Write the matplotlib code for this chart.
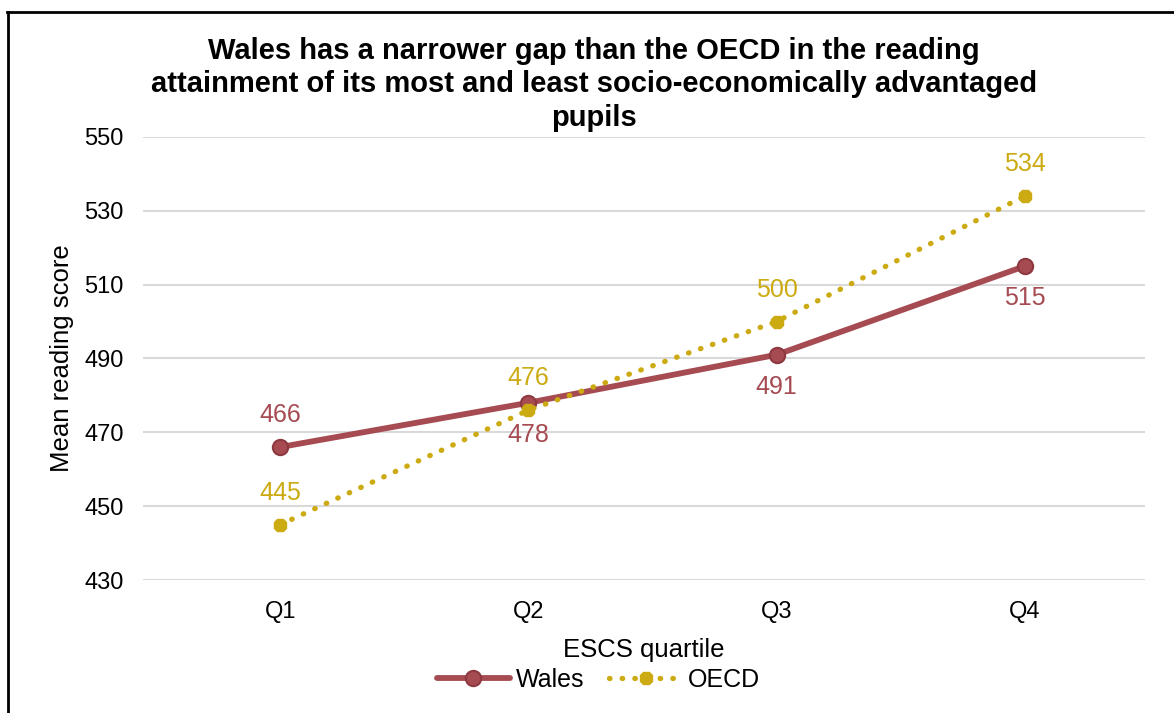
import matplotlib.pyplot as plt
from matplotlib.lines import Line2D

plt.rcParams['font.family'] = ['Liberation Sans', 'DejaVu Sans']

quartiles = ['Q1', 'Q2', 'Q3', 'Q4']
wales = [466, 478, 491, 515]
oecd = [445, 476, 500, 534]

# which side the data label sits on (1 = above, -1 = below)
wales_side = [1, -1, -1, -1]
oecd_side = [1, 1, 1, 1]

wales_col = '#A64B52'
oecd_col = '#CCAA12'
dots = (0, (0.1, 2.3))

fig = plt.figure(figsize=(11.74, 7.13), dpi=100)
ax = fig.add_axes([0.122, 0.1865, 0.853, 0.6215])

x = range(len(quartiles))
ax.plot(x, wales, color=wales_col, lw=4.2, marker='o', ms=11,
        markerfacecolor=wales_col, markeredgecolor='#8E3840', markeredgewidth=1.5,
        solid_capstyle='round', zorder=3)
ax.plot(x, oecd, color=oecd_col, lw=3.8, linestyle=dots,
        dash_capstyle='round', marker='8', ms=10, markerfacecolor=oecd_col,
        markeredgecolor=oecd_col, zorder=3)

for i in x:
    ax.annotate(str(wales[i]), (i, wales[i]), xytext=(0, 23 * wales_side[i]),
                textcoords='offset points', ha='center', va='center',
                fontsize=18, color=wales_col)
    ax.annotate(str(oecd[i]), (i, oecd[i]), xytext=(0, 23 * oecd_side[i]),
                textcoords='offset points', ha='center', va='center',
                fontsize=18, color=oecd_col)

ax.set_ylim(430, 550)
ax.set_yticks(range(430, 551, 20))
ax.set_xlim(-0.552, 3.483)
ax.set_xticks(list(x))
ax.set_xticklabels(quartiles)
ax.tick_params(length=0, labelsize=17)
ax.tick_params(axis='x', pad=15)
ax.tick_params(axis='y', pad=14)
ax.grid(axis='y', color='#D9D9D9', lw=1.5)
ax.set_axisbelow(True)
for s in ax.spines.values():
    s.set_visible(False)

ax.set_xlabel('ESCS quartile', fontsize=18.5, labelpad=11)
ax.set_ylabel('Mean reading score', fontsize=18.5)
ax.yaxis.set_label_coords(-0.069, 0.5)

fig.text(0.506, 0.882,
         'Wales has a narrower gap than the OECD in the reading\n'
         'attainment of its most and least socio-economically advantaged\n'
         'pupils', ha='center', va='center', fontsize=21, fontweight='bold',
         linespacing=1.25)

handles = [
    Line2D([], [], color=wales_col, lw=4.2, marker='o', ms=11,
           markerfacecolor=wales_col, markeredgecolor='#8E3840', markeredgewidth=1.5,
           solid_capstyle='round'),
    Line2D([], [], color=oecd_col, lw=3.8, linestyle=dots,
           dash_capstyle='round', marker='8', ms=10, markerfacecolor=oecd_col,
           markeredgecolor=oecd_col),
]
fig.legend(handles, ['Wales', 'OECD'], loc='center', bbox_to_anchor=(0.51, 0.046),
           ncol=2, frameon=False, fontsize=18, handlelength=2.9, columnspacing=1.0,
           handletextpad=0.25)

# frame lines on top and left, as in the original crop
fig.add_artist(Line2D([0.006, 1.0], [0.983, 0.983], transform=fig.transFigure,
                      color='black', lw=2))
fig.add_artist(Line2D([0.0065, 0.0065], [0.0, 0.983], transform=fig.transFigure,
                      color='black', lw=2))

fig.savefig('out.png', dpi=100)
